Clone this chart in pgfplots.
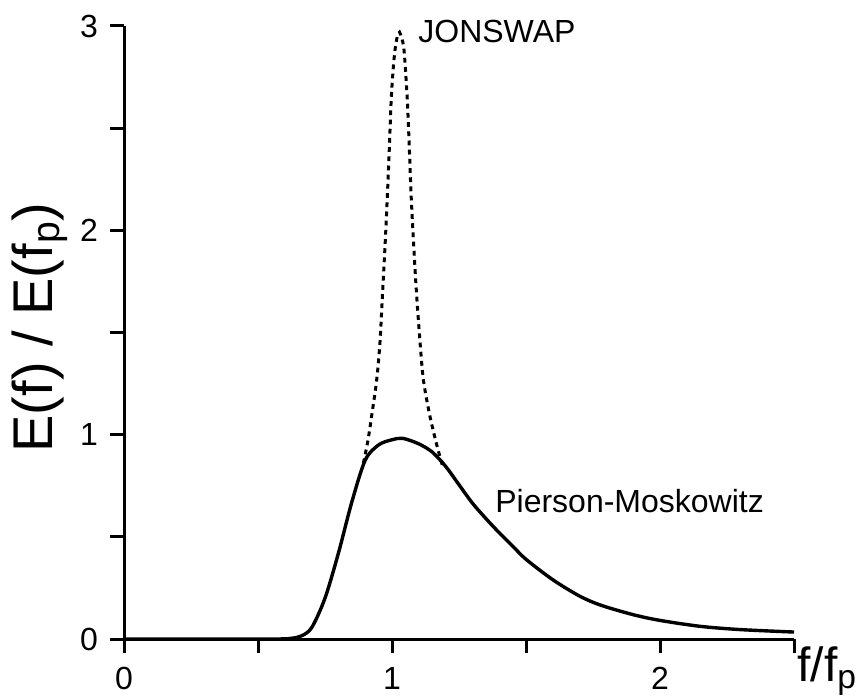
\documentclass[border=0pt]{standalone}
\usepackage{fontspec}
\setmainfont{Liberation Sans}
\usepackage{pgfplots}
\pgfplotsset{compat=1.18}
\begin{document}
\begin{tikzpicture}
\useasboundingbox (0,0) rectangle (432.5pt,347.5pt);
\begin{axis}[
  at={(62pt,28pt)}, anchor=south west,
  scale only axis, width=335pt, height=306.5pt,
  xmin=0, xmax=2.5, ymin=0, ymax=3,
  axis x line=bottom, axis y line=left,
  axis line style={-, line width=1.5pt},
  tick align=outside, major tick length=7pt,
  tick style={line width=1.5pt, black},
  xtick={0,0.5,1,1.5,2,2.5}, xticklabels={0,,1,,2,},
  ytick={0,0.5,1,1.5,2,2.5,3}, yticklabels={0,,1,,2,,3},
  ticklabel style={font=\fontsize{16}{19}\selectfont},
  xticklabel style={yshift=-3.5pt},
  yticklabel style={xshift=-2.5pt},
  /pgf/number format/assume math mode=true,
  clip=false,
]
% Pierson-Moskowitz
\addplot[black, line width=1.7pt, smooth, tension=0.5] coordinates {
(0,0) (0.55,0) (0.62,0.003) (0.66,0.014) (0.70,0.055) (0.75,0.20) (0.80,0.42)
(0.85,0.67) (0.90,0.875) (0.95,0.95) (1.00,0.975) (1.04,0.982) (1.10,0.955)
(1.15,0.915) (1.20,0.845) (1.25,0.755) (1.30,0.665) (1.35,0.59) (1.40,0.52)
(1.45,0.455) (1.50,0.39) (1.60,0.29) (1.70,0.21) (1.78,0.165) (1.90,0.119)
(2.00,0.091) (2.15,0.062) (2.30,0.046) (2.50,0.034)
};
% JONSWAP
\addplot[black, line width=1.5pt, dash pattern=on 2.4pt off 2.2pt, smooth, tension=0.5] coordinates {
(0.893,0.86) (0.91,0.97) (0.925,1.10) (0.943,1.27) (0.955,1.45) (0.965,1.70)
(0.975,1.95) (0.983,2.18) (0.990,2.40) (0.997,2.64) (1.005,2.80) (1.012,2.89)
(1.020,2.95) (1.028,2.97) (1.036,2.94) (1.045,2.88) (1.057,2.64) (1.065,2.39)
(1.071,2.18) (1.080,1.95) (1.090,1.72) (1.103,1.48) (1.117,1.27) (1.14,1.10)
(1.165,0.96) (1.19,0.84)
};
\node[anchor=base west, inner sep=0pt, font=\fontsize{16}{19}\selectfont] at (axis cs:1.097,2.917) {JONSWAP};
\node[anchor=base west, inner sep=0pt, font=\fontsize{16}{19}\selectfont] at (axis cs:1.384,0.617) {Pierson-Moskowitz};
\end{axis}
\node[rotate=90, font=\fontsize{28}{32}\selectfont] at (20pt,183.75pt) {E(f) / E(f\textsubscript{p})};
\node[anchor=base west, inner sep=0pt, font=\fontsize{24}{28}\selectfont] at (398.5pt,7pt) {f/f\textsubscript{p}};
\end{tikzpicture}
\end{document}
